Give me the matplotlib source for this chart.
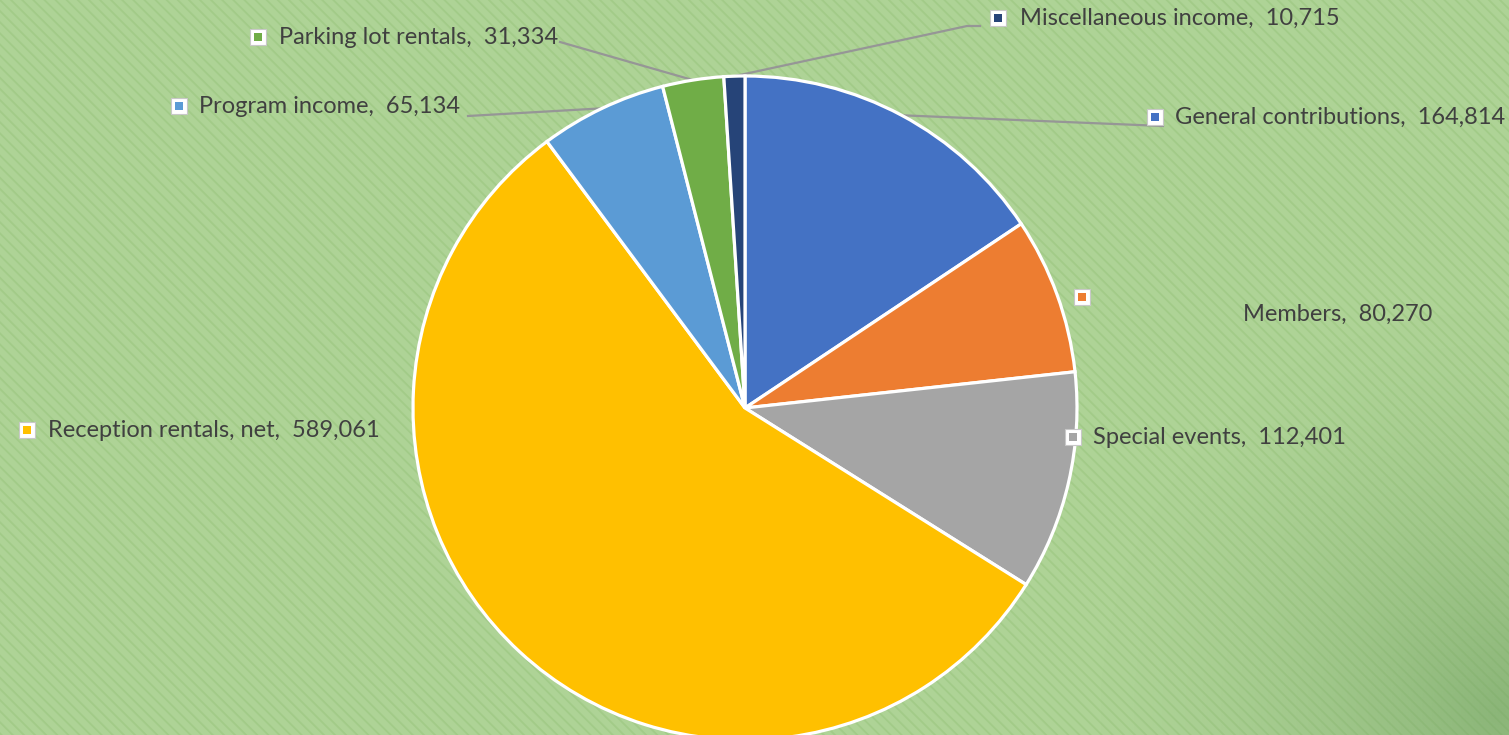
import numpy as np
import matplotlib
matplotlib.use("Agg")
from matplotlib import pyplot as plt
from matplotlib.patches import Rectangle

categories = ["General contributions", "Members", "Special events",
              "Reception rentals, net", "Program income",
              "Parking lot rentals", "Miscellaneous income"]
values = [164814, 80270, 112401, 589061, 65134, 31334, 10715]
colors = ["#4472C4", "#ED7D31", "#A5A5A5", "#FFC000", "#5B9BD5",
          "#70AD47", "#264478"]

W, H = 1509, 735
cx, cy, r = 745, 408, 332   # pie centre / radius in image pixels (y down)

# label layout in image pixels: marker centre, text start, text y, leader end
label_layout = {
    "General contributions": dict(sq=(1155, 117), tx=1175, ty=117, lead=[(1163, 126)]),
    "Members": dict(sq=(1082, 297), tx=1243, ty=314, lead=None),
    "Special events": dict(sq=(1073, 437), tx=1093, ty=437, lead=None),
    "Reception rentals, net": dict(sq=(27, 430), tx=48, ty=430, lead=None),
    "Program income": dict(sq=(179, 106), tx=199, ty=106, lead=[(468, 116)]),
    "Parking lot rentals": dict(sq=(258, 37), tx=279, ty=37, lead=[(560, 42)]),
    "Miscellaneous income": dict(sq=(998, 18), tx=1020, ty=18, lead=[(967, 26), (980, 26)]),
}

plt.rcParams['font.family'] = ['Lato', 'DejaVu Sans']
plt.rcParams['hatch.linewidth'] = 1.3

fig = plt.figure(figsize=(W / 100, H / 100), dpi=100)
ax = fig.add_axes([0, 0, 1, 1])

# striped green background
ax.add_patch(Rectangle((0, 0), W, H, facecolor="#aed396", edgecolor="#a2cb88",
                       hatch="\\\\\\", linewidth=0, zorder=0))

# darker shading toward the bottom-right corner (image rows, top = 0)
yy, xx = np.mgrid[0:H:3, 0:W:3]
d = np.hypot(xx - 1500, yy - 710)
alpha = np.clip(1 - d / 420, 0, 1) ** 1.6 * 0.55
shade = np.zeros(xx.shape + (4,))
shade[..., :3] = matplotlib.colors.to_rgb("#6f9d60")
shade[..., 3] = alpha
ax.imshow(shade, extent=(0, W, 0, H), origin="upper", zorder=1, aspect="auto")

wedges, _ = ax.pie(values, colors=colors, startangle=90, counterclock=False,
                   center=(cx, H - cy), radius=r,
                   wedgeprops=dict(edgecolor="white", linewidth=2.3))
for w in wedges:
    w.set_zorder(3)

for w, name, val, col in zip(wedges, categories, values, colors):
    lay = label_layout[name]
    sx, sy = lay["sq"]
    ax.plot(sx, H - sy, marker="s", markersize=11.5, markerfacecolor="white",
            markeredgecolor="#c8c8c8", markeredgewidth=0.8, zorder=5)
    ax.plot(sx, H - sy, marker="s", markersize=5.8, markerfacecolor=col,
            markeredgewidth=0, zorder=6)
    ax.text(lay["tx"], H - lay["ty"], f"{name},  {val:,}", fontsize=17,
            color="#404040", va="center", ha="left", zorder=6)
    if lay["lead"]:
        ang = np.deg2rad((w.theta1 + w.theta2) / 2)
        px = [cx + r * np.cos(ang)] + [p[0] for p in lay["lead"]]
        py = [H - cy + r * np.sin(ang)] + [H - p[1] for p in lay["lead"]]
        ax.plot(px, py, color="#969696", linewidth=1.6, zorder=2)

ax.set_xlim(0, W)
ax.set_ylim(0, H)
ax.set_aspect("equal")
ax.axis("off")

fig.savefig("out.png", dpi=100)
